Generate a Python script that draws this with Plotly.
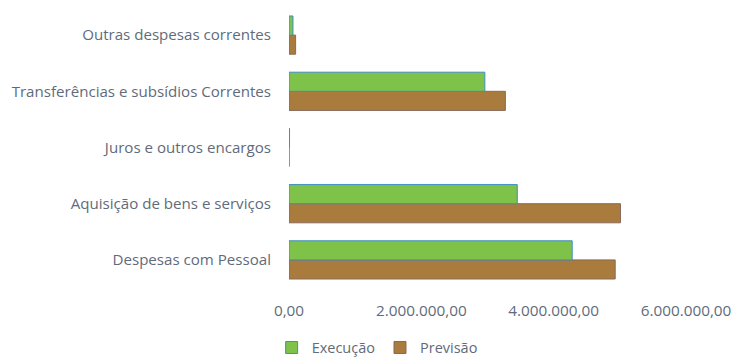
import plotly.graph_objects as go

categories = ["Despesas com Pessoal", "Aquisição de bens e serviços", "Juros e outros encargos",
              "Transferências e subsídios Correntes", "Outras despesas correntes"]
execucao = [4280000, 3450000, 8000, 2960000, 60000]
previsao = [4930000, 5010000, 0, 3270000, 100000]
tick_vals = [0, 2000000, 4000000, 6000000]
tick_text = ["0,00", "2.000.000,00", "4.000.000,00", "6.000.000,00"]

font_color = "#5f6b7a"
fig = go.Figure()
fig.add_trace(go.Bar(y=categories, x=previsao, orientation="h", name="Previsão",
                     marker=dict(color="#a97b3c", line=dict(color="#8a6a5a", width=1))))
fig.add_trace(go.Bar(y=categories, x=execucao, orientation="h", name="Execução",
                     marker=dict(color="#7ec24a", line=dict(color="#3d8fc4", width=1))))
fig.update_layout(
    width=739, height=358,
    margin=dict(l=289, r=53, t=7, b=70, autoexpand=False),
    barmode="group", bargap=0.32, bargroupgap=0,
    plot_bgcolor="white", paper_bgcolor="white",
    font=dict(family="Open Sans, sans-serif", size=14.5, color=font_color),
    xaxis=dict(range=[0, 6000000], tickvals=tick_vals, ticktext=tick_text,
               showgrid=False, zeroline=False, showline=False, ticks="",
               ticklabelstandoff=12, ticklabeloverflow="allow", automargin=False,
               tickfont=dict(size=15.3, color=font_color)),
    yaxis=dict(showgrid=False, zeroline=False, showline=False, ticks="outside",
               ticklen=14, tickcolor="white", automargin=False,
               tickfont=dict(size=15.1, color=font_color)),
    legend=dict(orientation="h", x=0.222, xanchor="center", y=-0.212, yanchor="middle",
                traceorder="reversed", font=dict(size=14.5, color=font_color)),
    showlegend=True,
)
fig.write_html("out.html")
